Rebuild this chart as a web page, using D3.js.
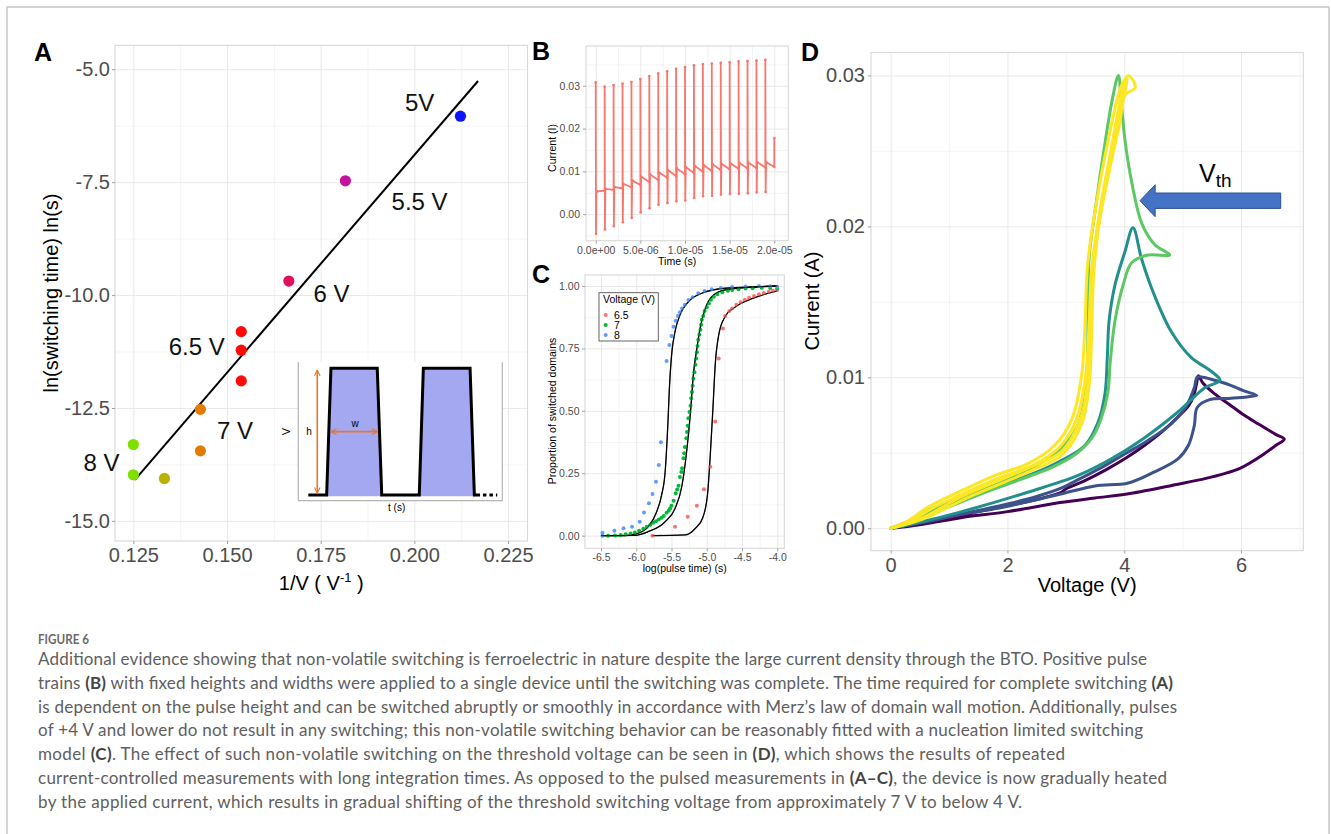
<!DOCTYPE html>
<html><head><meta charset="utf-8">
<script src="https://cdn.jsdelivr.net/npm/d3@7"></script>
<style>
body{margin:0;background:#fff;}
svg{display:block;}
</style></head><body>
<svg id="fig" width="1331" height="834"></svg>
<script>
// ---------------- Panel A data ----------------
const aInvV = [0.2123, 0.1816, 0.1665, 0.1538, 0.1538, 0.1538, 0.1429, 0.1429, 0.1250, 0.1250, 0.1333];
const aLnT  = [-6.04, -7.47, -9.69, -10.81, -11.22, -11.90, -12.53, -13.45, -13.31, -13.98, -14.06];
const aVolt = [5, 5.5, 6, 6.5, 6.5, 6.5, 7, 7, 8, 8, 7.5];
const aVoltLevels = [5, 5.5, 6, 6.5, 7, 7.5, 8];
const aVoltColors = ["#0a14ff", "#c2149c", "#e0105e", "#ff0a0a", "#e37b00", "#bdb000", "#7fe000"];
const aFitX = [0.1254, 0.2170];
const aFitY = [-14.09, -5.26];
const aLabelText = ["5V", "5.5 V", "6 V", "6.5 V", "7 V", "8 V"];
const aLabelX = [0.2014, 0.2014, 0.1779, 0.1419, 0.1521, 0.1165];
const aLabelY = [-5.74, -7.93, -9.97, -11.14, -12.99, -13.71];
const aXTicks = [0.125, 0.150, 0.175, 0.200, 0.225];
const aYTicks = [-15, -12.5, -10, -7.5, -5];
// inset schematic (pulse train)
const insetT = [0.49, 1.39, 1.60, 3.87, 4.09, 5.93, 6.13, 8.42, 8.63, 8.91];
const insetV = [0, 0, 1, 1, 0, 0, 1, 1, 0, 0];

// ---------------- Panel B data ----------------
const bPulseT = [0, 1e-6, 2e-6, 3e-6, 4e-6, 5e-6, 6e-6, 7e-6, 8e-6, 9e-6, 1.0e-5, 1.1e-5, 1.2e-5, 1.3e-5, 1.4e-5, 1.5e-5, 1.6e-5, 1.7e-5, 1.8e-5, 1.9e-5];
const bMax = [0.0308, 0.0298, 0.0302, 0.0305, 0.0309, 0.0316, 0.0323, 0.0329, 0.0334, 0.0340, 0.0344, 0.0348, 0.0351, 0.0352, 0.0354, 0.0355, 0.0357, 0.0358, 0.0359, 0.0361];
const bMin = [-0.0046, -0.0036, -0.0028, -0.0019, -0.0009, 0.0004, 0.0014, 0.0022, 0.0026, 0.0030, 0.0032, 0.0038, 0.0042, 0.0043, 0.0046, 0.0047, 0.0048, 0.0049, 0.0051, 0.0052];
const bBasePeak = [0.0053, 0.0059, 0.0064, 0.0071, 0.0079, 0.0088, 0.0093, 0.0098, 0.0103, 0.0107, 0.0110, 0.0113, 0.0115, 0.0117, 0.0118, 0.0119, 0.0120, 0.0121, 0.0122, 0.0122];
const bBaseEnd = [0.0055, 0.0057, 0.0060, 0.0063, 0.0068, 0.0075, 0.0080, 0.0085, 0.0089, 0.0093, 0.0096, 0.0099, 0.0101, 0.0103, 0.0105, 0.0106, 0.0107, 0.0108, 0.0109, 0.0110];
const bEndT = 2.0e-5, bEndSpike = 0.0178;
const bXTicks = [0, 5e-6, 1e-5, 1.5e-5, 2e-5];
const bXLabels = ["0.0e+00", "5.0e-06", "1.0e-05", "1.5e-05", "2.0e-05"];
const bYTicks = [0, 0.01, 0.02, 0.03];

// ---------------- Panel C data ----------------
const c65X = [-5.77, -5.45, -5.27, -5.14, -5.04, -4.95, -4.88, -4.83, -4.77, -4.74, -4.68, -4.64, -4.58, -4.52, -4.46, -4.40, -4.33, -4.26, -4.19, -4.12, -4.06, -4.00];
const c65Y = [0.000, 0.036, 0.076, 0.120, 0.186, 0.276, 0.457, 0.710, 0.830, 0.880, 0.900, 0.910, 0.925, 0.935, 0.945, 0.953, 0.960, 0.967, 0.972, 0.977, 0.981, 0.984];
const c7X = [-6.40, -6.30, -6.22, -6.15, -6.08, -6.02, -5.96, -5.90, -5.85, -5.80, -5.76, -5.72, -5.68, -5.64, -5.61, -5.57, -5.54, -5.52, -5.50, -5.47, -5.44, -5.42, -5.40, -5.38, -5.36, -5.35, -5.33, -5.32, -5.31, -5.29, -5.28, -5.27, -5.26, -5.245, -5.23, -5.22, -5.21, -5.20, -5.19, -5.175, -5.16, -5.15, -5.14, -5.13, -5.12, -5.105, -5.09, -5.08, -5.07, -5.05, -5.03, -5.00, -4.97, -4.94, -4.90, -4.85, -4.78, -4.70, -4.64, -4.55, -4.45, -4.35, -4.22, -4.10, -4.00];
const c7Y = [0.000, 0.001, 0.003, 0.006, 0.009, 0.013, 0.020, 0.028, 0.036, 0.044, 0.052, 0.058, 0.065, 0.072, 0.079, 0.092, 0.100, 0.109, 0.120, 0.140, 0.170, 0.185, 0.200, 0.235, 0.255, 0.270, 0.310, 0.330, 0.355, 0.390, 0.415, 0.440, 0.470, 0.495, 0.520, 0.550, 0.575, 0.600, 0.630, 0.655, 0.685, 0.710, 0.735, 0.760, 0.785, 0.805, 0.825, 0.845, 0.865, 0.880, 0.900, 0.915, 0.930, 0.945, 0.957, 0.967, 0.975, 0.981, 0.984, 0.987, 0.990, 0.991, 0.993, 0.992, 0.990];
const c8X = [-6.48, -6.48, -6.31, -6.18, -6.06, -5.95, -5.89, -5.82, -5.77, -5.72, -5.68, -5.65, -5.57, -5.53, -5.50, -5.47, -5.44, -5.41, -5.38, -5.35, -5.31, -5.26, -5.20, -5.12, -5.03, -4.93, -4.80, -4.64, -4.45, -4.26, -4.10, -4.00];
const c8Y = [0.000, 0.012, 0.020, 0.030, 0.036, 0.056, 0.093, 0.130, 0.167, 0.216, 0.283, 0.374, 0.700, 0.764, 0.800, 0.837, 0.861, 0.880, 0.895, 0.910, 0.925, 0.944, 0.955, 0.971, 0.980, 0.987, 0.992, 0.996, 0.998, 1.000, 0.999, 0.997];
const fit8X = [-6.50, -6.16, -5.97, -5.83, -5.71, -5.64, -5.59, -5.55, -5.53, -5.50, -5.45, -5.38, -5.26, -5.07, -4.74, -4.26, -4.00];
const fit8Y = [0.000, 0.000, 0.010, 0.036, 0.096, 0.163, 0.256, 0.457, 0.590, 0.720, 0.817, 0.884, 0.937, 0.971, 0.991, 0.997, 1.000];
const fit7X = [-6.50, -6.02, -5.83, -5.59, -5.45, -5.35, -5.28, -5.23, -5.19, -5.14, -5.09, -5.02, -4.93, -4.74, -4.26, -4.00];
const fit7Y = [0.000, 0.001, 0.016, 0.056, 0.109, 0.203, 0.350, 0.497, 0.644, 0.750, 0.837, 0.910, 0.957, 0.984, 0.997, 1.000];
const fit65X = [-5.77, -5.31, -5.16, -5.06, -4.99, -4.95, -4.91, -4.88, -4.83, -4.74, -4.59, -4.35, -4.00];
const fit65Y = [0.000, 0.003, 0.030, 0.070, 0.163, 0.323, 0.523, 0.684, 0.804, 0.877, 0.917, 0.950, 0.980];
const cSeriesNames = ["6.5", "7", "8"];
const cSeriesColors = ["#f8766d", "#00ba38", "#619cff"];
const cXTicks = [-6.5, -6.0, -5.5, -5.0, -4.5, -4.0];
const cYTicks = [0, 0.25, 0.5, 0.75, 1.0];

// ---------------- Panel D data (V, I) ----------------
const dLoopPurple = [[0,0],[0.25,0.0001],[0.6,0.0003],[1.2,0.0007],[2.0,0.0011],[2.9,0.0017],[3.5,0.0020],[4.1,0.0023],[4.9,0.0029],[5.4,0.0033],[5.7,0.0036],[6.0,0.0040],[6.35,0.0048],[6.6,0.0055],[6.74,0.0059],[6.6,0.0062],[6.3,0.0069],[6.05,0.0075],[5.8,0.0082],[5.55,0.0089],[5.35,0.0096],[5.27,0.0101],[5.24,0.0096],[5.19,0.0088],[5.1,0.0081],[4.9,0.0073],[4.65,0.0064],[4.35,0.0055],[4.05,0.0047],[3.7,0.0039],[3.3,0.0031],[3.0,0.0026],[2.93,0.0024],[2.5,0.0019],[2.0,0.0015],[1.5,0.0011],[1.0,0.0007],[0.5,0.0004],[0.2,0.0001],[0,0]];
const dLoopBlue = [[0,0],[0.3,0.0002],[0.7,0.0005],[1.2,0.0009],[1.8,0.0013],[2.4,0.0018],[2.95,0.0023],[3.5,0.0028],[4.07,0.0030],[4.5,0.0037],[4.92,0.0046],[5.1,0.0055],[5.2,0.0068],[5.25,0.0080],[5.45,0.0085],[5.8,0.0086],[6.1,0.0087],[6.27,0.0088],[6.05,0.0091],[5.8,0.0095],[5.55,0.0098],[5.35,0.0100],[5.25,0.0100],[5.2,0.0093],[5.05,0.0080],[4.8,0.0069],[4.4,0.0058],[4.0,0.0049],[3.6,0.0040],[3.2,0.0032],[2.95,0.0027],[2.5,0.0021],[2.0,0.0016],[1.4,0.0011],[0.8,0.0006],[0.3,0.0002],[0,0]];
const dLoopTeal = [[0,0],[0.3,0.0004],[0.64,0.0012],[1.22,0.0019],[1.79,0.0028],[2.36,0.0035],[2.93,0.0045],[3.33,0.0055],[3.55,0.0070],[3.67,0.0089],[3.71,0.0113],[3.74,0.0137],[3.84,0.0161],[4.01,0.0183],[4.15,0.0199],[4.30,0.0178],[4.52,0.0154],[4.81,0.0130],[5.15,0.0113],[5.49,0.0104],[5.64,0.0098],[5.38,0.0093],[4.92,0.0077],[4.35,0.0060],[3.78,0.0046],[3.21,0.0035],[2.36,0.0024],[1.22,0.0011],[0.5,0.0004],[0,0]];
const dLoopGreen = [[0,0],[0.4,0.0006],[1.0,0.0017],[2.0,0.0032],[2.64,0.0045],[3.0,0.0056],[3.2,0.0068],[3.32,0.0085],[3.37,0.0110],[3.38,0.0145],[3.40,0.0180],[3.50,0.0210],[3.65,0.0250],[3.80,0.0285],[3.90,0.0300],[3.95,0.0282],[4.01,0.0258],[4.13,0.0229],[4.30,0.0202],[4.52,0.0188],[4.78,0.0181],[4.41,0.0181],[4.13,0.0176],[3.98,0.0161],[3.84,0.0137],[3.76,0.0110],[3.72,0.0090],[3.60,0.0072],[3.45,0.0060],[3.20,0.0050],[2.80,0.0041],[2.20,0.0032],[1.50,0.0022],[0.80,0.0011],[0.30,0.0003],[0,0]];
const dLoopYellow1 = [[0,0],[0.3,0.0005],[0.64,0.0014],[1.22,0.0025],[1.79,0.0035],[2.36,0.0043],[2.81,0.0055],[3.10,0.0072],[3.27,0.0101],[3.33,0.0137],[3.37,0.0173],[3.50,0.0210],[3.73,0.0258],[3.95,0.0293],[4.07,0.0300],[4.19,0.0292],[4.01,0.0287],[3.93,0.0270],[3.73,0.0234],[3.50,0.0186],[3.41,0.0137],[3.38,0.0101],[3.27,0.0075],[2.93,0.0051],[2.36,0.0040],[1.22,0.0021],[0.5,0.0006],[0,0]];
const dLoopYellow2 = [[0,0],[0.35,0.0005],[0.7,0.0013],[1.3,0.0024],[1.9,0.0034],[2.45,0.0042],[2.9,0.0054],[3.18,0.0072],[3.34,0.0101],[3.40,0.0137],[3.44,0.0170],[3.56,0.0205],[3.78,0.0252],[3.97,0.0290],[4.05,0.0298],[3.98,0.0283],[3.85,0.0262],[3.62,0.0215],[3.48,0.0170],[3.44,0.0125],[3.40,0.0095],[3.28,0.0070],[2.95,0.0049],[2.4,0.0038],[1.3,0.0020],[0.55,0.0006],[0,0]];
const dLoops = [dLoopPurple, dLoopBlue, dLoopTeal, dLoopGreen, dLoopYellow1, dLoopYellow2];
const dLoopColors = ["#440154", "#3b528b", "#21908c", "#5dc863", "#fde725", "#fde725"];
const dXTicks = [0, 2, 4, 6];
const dYTicks = [0, 0.01, 0.02, 0.03];
const vthArrowV = [4.27, 4.53, 6.68];        // tip, head base, tail
const vthArrowI = [0.0217, 0.00051, 0.00106]; // centre, body half-height, head half-height
const vthLabelV = 5.28, vthLabelI = 0.02294;

// ---------------- Caption ----------------
const captionTitle = "FIGURE 6";
const captionLines = [
  [["Additional evidence showing that non-volatile switching is ferroelectric in nature despite the large current density through the BTO. Positive pulse", 0]],
  [["trains ", 0], ["(B)", 1], [" with fixed heights and widths were applied to a single device until the switching was complete. The time required for complete switching ", 0], ["(A)", 1]],
  [["is dependent on the pulse height and can be switched abruptly or smoothly in accordance with Merz\u2019s law of domain wall motion. Additionally, pulses", 0]],
  [["of +4 V and lower do not result in any switching; this non-volatile switching behavior can be reasonably fitted with a nucleation limited switching", 0]],
  [["model ", 0], ["(C)", 1], [". The effect of such non-volatile switching on the threshold voltage can be seen in ", 0], ["(D)", 1], [", which shows the results of repeated", 0]],
  [["current-controlled measurements with long integration times. As opposed to the pulsed measurements in ", 0], ["(A\u2013C)", 1], [", the device is now gradually heated", 0]],
  [["by the applied current, which results in gradual shifting of the threshold switching voltage from approximately 7 V to below 4 V.", 0]]
];
const captionLineEnds = [1147, 1173, 1177, 1143, 1065, 1167, 1022];

// =====================================================
const svg = d3.select("#fig");
const FONT = "'Liberation Sans', Arial, Helvetica, sans-serif";
const hy = f => (d => f(d).replace("\u2212", "-"));
svg.append("rect").attr("x", 7).attr("y", 7).attr("width", 1322).attr("height", 860)
  .attr("fill", "#fff").attr("stroke", "#c4c4c4").attr("stroke-width", 1.4);

function frame(xs, ys, c) {
  const [xl, xr] = xs.range(), [yb, yt] = ys.range();
  const g = svg.append("g");
  g.append("rect").attr("x", xl).attr("y", yt).attr("width", xr - xl).attr("height", yb - yt).attr("fill", "#fff");
  g.append("g").attr("transform", `translate(0,${yb})`)
    .call(d3.axisBottom(xs).tickValues(c.xMinor).tickSize(-(yb - yt)).tickFormat(""))
    .call(a => { a.select(".domain").remove(); a.selectAll("line").attr("stroke", "#f3f3f3").attr("stroke-width", 0.9); });
  g.append("g").attr("transform", `translate(${xl},0)`)
    .call(d3.axisLeft(ys).tickValues(c.yMinor).tickSize(-(xr - xl)).tickFormat(""))
    .call(a => { a.select(".domain").remove(); a.selectAll("line").attr("stroke", "#f3f3f3").attr("stroke-width", 0.9); });
  g.append("g").attr("transform", `translate(0,${yb})`)
    .call(d3.axisBottom(xs).tickValues(c.xTicks).tickSize(-(yb - yt)).tickFormat(""))
    .call(a => { a.select(".domain").remove(); a.selectAll("line").attr("stroke", "#e9e9e9").attr("stroke-width", 1); });
  g.append("g").attr("transform", `translate(${xl},0)`)
    .call(d3.axisLeft(ys).tickValues(c.yTicks).tickSize(-(xr - xl)).tickFormat(""))
    .call(a => { a.select(".domain").remove(); a.selectAll("line").attr("stroke", "#e9e9e9").attr("stroke-width", 1); });
  g.append("rect").attr("x", xl).attr("y", yt).attr("width", xr - xl).attr("height", yb - yt)
    .attr("fill", "none").attr("stroke", "#d8d8d8").attr("stroke-width", 1.1);
  const style = a => {
    a.select(".domain").remove();
    a.selectAll("line").attr("stroke", "#a0a0a0");
    a.selectAll("text").attr("fill", "#4d4d4d").style("font-family", FONT).style("font-size", c.fs + "px");
  };
  g.append("g").attr("transform", `translate(0,${yb})`)
    .call(d3.axisBottom(xs).tickValues(c.xTicks).tickFormat(c.xFmt).tickSize(3).tickPadding(c.xPad)).call(style);
  g.append("g").attr("transform", `translate(${xl},0)`)
    .call(d3.axisLeft(ys).tickValues(c.yTicks).tickFormat(c.yFmt).tickSize(3).tickPadding(c.yPad)).call(style);
  g.append("text").attr("x", (xl + xr) / 2 + (c.xTitleDx || 0)).attr("y", c.xTitleY).attr("text-anchor", "middle")
    .style("font-family", FONT).style("font-size", c.tfs + "px").attr("fill", "#000").call(c.xTitle);
  g.append("text").attr("transform", `translate(${c.yTitleX},${c.yTitleY}) rotate(-90)`).attr("text-anchor", "middle")
    .attr("dy", "0.35em").style("font-family", FONT).style("font-size", c.tfs + "px").attr("fill", "#000").text(c.yTitle);
  svg.append("text").attr("x", c.lx).attr("y", c.ly).text(c.letter)
    .style("font-family", FONT).style("font-weight", "bold").style("font-size", "25px").attr("fill", "#000");
  return g;
}

// ---------------- Panel A ----------------
const ax = d3.scaleLinear().domain([0.1201, 0.2302]).range([115, 527.5]);
const ay = d3.scaleLinear().domain([-15.445, -4.47]).range([541, 45.3]);
const aColor = d3.scaleOrdinal().domain(aVoltLevels).range(aVoltColors);
const gA = frame(ax, ay, {
  xTicks: aXTicks, yTicks: aYTicks, xMinor: [0.1375, 0.1625, 0.1875, 0.2125],
  yMinor: [-13.75, -11.25, -8.75, -6.25], fs: 20, tfs: 20,
  xFmt: d3.format(".3f"), yFmt: hy(d3.format(".1f")), xPad: 4, yPad: 2,
  xTitleY: 590, xTitleDx: 0,
  xTitle: t => { t.append("tspan").text("1/V ( V"); t.append("tspan").attr("dy", -8).style("font-size", "13px").text("-1");
                 t.append("tspan").attr("dy", 8).text(" )"); },
  yTitle: "ln(switching time) ln(s)", yTitleX: 51, yTitleY: 293,
  letter: "A", lx: 34, ly: 61
});
gA.append("line").attr("x1", ax(aFitX[0])).attr("y1", ay(aFitY[0])).attr("x2", ax(aFitX[1])).attr("y2", ay(aFitY[1]))
  .attr("stroke", "#000").attr("stroke-width", 2);
gA.selectAll("circle.pt").data(aInvV).join("circle").attr("class", "pt")
  .attr("cx", d => ax(d)).attr("cy", (d, i) => ay(aLnT[i])).attr("r", 5.6).attr("fill", (d, i) => aColor(aVolt[i]));
gA.selectAll("text.lab").data(aLabelText).join("text").attr("class", "lab")
  .attr("x", (d, i) => ax(aLabelX[i])).attr("y", (d, i) => ay(aLabelY[i])).attr("dy", "0.36em")
  .attr("text-anchor", "middle").style("font-family", FONT).style("font-size", "24px").attr("fill", "#111").text(d => d);

// inset
const ix = d3.scaleLinear().domain([0, 10]).range([298.3, 502.3]);
const iy = d3.scaleLinear().domain([0, 1]).range([495, 368.3]);
const gI = svg.append("g");
gI.append("rect").attr("x", ix(0)).attr("y", iy(1.05)).attr("width", ix(10) - ix(0)).attr("height", iy(-0.045) - iy(1.05)).attr("fill", "#fff");
gI.append("path").attr("d", `M${ix(0)},${iy(1.05)}V${iy(-0.045)}H${ix(10)}V${iy(1.05)}`).attr("fill", "none").attr("stroke", "#b5b5b5").attr("stroke-width", 1.2);
const area = d3.area().x((d) => ix(d[0])).y0(iy(-0.01)).y1(d => iy(d[1]));
[[1, 4], [5, 8]].forEach(([s, e]) => {
  const pts = d3.range(s, e + 1).map(i => [insetT[i], insetV[i]]);
  gI.append("path").attr("d", area(pts)).attr("fill", "#a4a8f1");
});
gI.append("path").attr("d", d3.line().x(d => ix(d[0])).y(d => iy(d[1]))(insetT.map((t, i) => [t, insetV[i]])))
  .attr("fill", "none").attr("stroke", "#000").attr("stroke-width", 3).attr("stroke-linejoin", "miter");
gI.append("line").attr("x1", ix(9.05)).attr("x2", ix(9.75)).attr("y1", iy(0)).attr("y2", iy(0))
  .attr("stroke", "#000").attr("stroke-width", 3).attr("stroke-dasharray", "3.5,3");
const defs = svg.append("defs");
defs.append("marker").attr("id", "oar").attr("viewBox", "0 0 10 10").attr("refX", 9).attr("refY", 5)
  .attr("markerWidth", 7).attr("markerHeight", 7).attr("orient", "auto-start-reverse").attr("markerUnits", "userSpaceOnUse")
  .append("path").attr("d", "M1,1L9,5L1,9").attr("fill", "none").attr("stroke", "#e8762c").attr("stroke-width", 1.6);
gI.append("line").attr("x1", ix(0.93)).attr("x2", ix(0.93)).attr("y1", iy(0.985)).attr("y2", iy(0.015))
  .attr("stroke", "#e8762c").attr("stroke-width", 1.6).attr("marker-start", "url(#oar)").attr("marker-end", "url(#oar)");
gI.append("line").attr("x1", ix(1.6)).attr("x2", ix(3.88)).attr("y1", iy(0.5)).attr("y2", iy(0.5))
  .attr("stroke", "#e8762c").attr("stroke-width", 1.6).attr("marker-start", "url(#oar)").attr("marker-end", "url(#oar)");
gI.append("text").attr("x", ix(0.52)).attr("y", iy(0.5)).attr("dy", "0.35em").attr("text-anchor", "middle")
  .style("font-family", FONT).style("font-size", "10px").text("h");
gI.append("text").attr("x", ix(2.78)).attr("y", iy(0.56)).attr("dy", "0.3em").attr("text-anchor", "middle")
  .style("font-family", FONT).style("font-size", "10px").text("w");
gI.append("text").attr("x", ix(4.82)).attr("y", iy(-0.045) + 10).attr("text-anchor", "middle")
  .style("font-family", FONT).style("font-size", "10px").text("t (s)");
gI.append("text").attr("transform", `translate(${ix(-0.4)},${iy(0.5)}) rotate(-90)`).attr("text-anchor", "middle")
  .style("font-family", FONT).style("font-size", "11px").text("V");

// ---------------- Panel B ----------------
const bx = d3.scaleLinear().domain([-1.09e-6, 2.157e-5]).range([586, 788.3]);
const by = d3.scaleLinear().domain([-0.0062, 0.0393]).range([240.7, 46]);
const gB = frame(bx, by, {
  xTicks: bXTicks, yTicks: bYTicks, xMinor: [2.5e-6, 7.5e-6, 1.25e-5, 1.75e-5],
  yMinor: [-0.005, 0.005, 0.015, 0.025, 0.035], fs: 10.5, tfs: 10.5,
  xFmt: (d, i) => bXLabels[i], yFmt: d3.format(".2f"), xPad: 2.5, yPad: 3,
  xTitleY: 265, xTitleDx: -10, xTitle: t => t.text("Time (s)"),
  yTitle: "Current (I)", yTitleX: 552, yTitleY: 148,
  letter: "B", lx: 532, ly: 60
});
const bPts = [];
bPulseT.forEach((t, k) => {
  if (k > 0) bPts.push([t, bBaseEnd[k - 1]]);
  bPts.push([t, bMax[k]]);
  bPts.push([t + 3e-8, bMin[k]]);
  bPts.push([t + 8e-8, bBasePeak[k]]);
});
bPts.push([bEndT, bBaseEnd[bBaseEnd.length - 1]]);
bPts.push([bEndT, bEndSpike]);
gB.append("path").attr("d", d3.line().x(d => bx(d[0])).y(d => by(d[1]))(bPts))
  .attr("fill", "none").attr("stroke", "#f8766d").attr("stroke-width", 1.8).attr("stroke-linejoin", "round");
gB.selectAll("circle").data(bPts).join("circle").attr("cx", d => bx(d[0])).attr("cy", d => by(d[1])).attr("r", 1.3).attr("fill", "#f8766d");

// ---------------- Panel C ----------------
const cx = d3.scaleLinear().domain([-6.727, -3.90]).range([585, 784.3]);
const cy = d3.scaleLinear().domain([-0.0505, 1.044]).range([548.3, 275]);
const gC = frame(cx, cy, {
  xTicks: cXTicks, yTicks: cYTicks, xMinor: [-6.25, -5.75, -5.25, -4.75, -4.25],
  yMinor: [0.125, 0.375, 0.625, 0.875], fs: 10.5, tfs: 10.5,
  xFmt: hy(d3.format(".1f")), yFmt: d3.format(".2f"), xPad: 2, yPad: 2.5,
  xTitleY: 572, xTitleDx: 0, xTitle: t => t.text("log(pulse time)  (s)"),
  yTitle: "Proportion of switched domains", yTitleX: 552, yTitleY: 411,
  letter: "C", lx: 532, ly: 283
});
const cLine = d3.line().x(d => cx(d[0])).y(d => cy(d[1])).curve(d3.curveMonotoneX);
[[fit65X, fit65Y], [fit7X, fit7Y], [fit8X, fit8Y]].forEach(([X, Y]) => {
  gC.append("path").attr("d", cLine(X.map((x, i) => [x, Y[i]]))).attr("fill", "none").attr("stroke", "#000").attr("stroke-width", 1.3);
});
[[c65X, c65Y], [c7X, c7Y], [c8X, c8Y]].forEach(([X, Y], s) => {
  gC.append("g").selectAll("circle").data(X).join("circle")
    .attr("cx", d => cx(d)).attr("cy", (d, i) => cy(Y[i])).attr("r", 2).attr("fill", cSeriesColors[s]);
});
[[fit65X, fit65Y], [fit7X, fit7Y], [fit8X, fit8Y]].forEach(([X, Y]) => {
  gC.append("path").attr("d", cLine(X.map((x, i) => [x, Y[i]]))).attr("fill", "none").attr("stroke", "#000").attr("stroke-width", 0.8).attr("opacity", 0.7);
});
const lg = gC.append("g").attr("transform", `translate(${cx.range()[0] + 14},${cy.range()[1] + 17.7})`);
lg.append("rect").attr("width", 59.3).attr("height", 48.3).attr("fill", "#fff").attr("stroke", "#555").attr("stroke-width", 0.9);
lg.append("text").attr("x", 4).attr("y", 10.5).text("Voltage (V)").style("font-family", FONT).style("font-size", "10.5px");
cSeriesNames.forEach((n, i) => {
  lg.append("circle").attr("cx", 6.7).attr("cy", 22.3 + i * 10).attr("r", 2).attr("fill", cSeriesColors[i]);
  lg.append("text").attr("x", 15).attr("y", 22.3 + i * 10).attr("dy", "0.35em").text(n).style("font-family", FONT).style("font-size", "10.5px");
});

// ---------------- Panel D ----------------
const dx = d3.scaleLinear().domain([-0.337, 7.067]).range([871, 1303.3]);
const dy = d3.scaleLinear().domain([-0.00149, 0.03152]).range([550.7, 52.5]);
const gD = frame(dx, dy, {
  xTicks: dXTicks, yTicks: dYTicks, xMinor: [1, 3, 5, 7], yMinor: [0.005, 0.015, 0.025], fs: 20, tfs: 20,
  xFmt: d3.format("d"), yFmt: d3.format(".2f"), xPad: 4, yPad: 3,
  xTitleY: 592, xTitleDx: 0, xTitle: t => t.text("Voltage (V)"),
  yTitle: "Current (A)", yTitleX: 812, yTitleY: 301,
  letter: "D", lx: 801, ly: 61
});
const dLine = d3.line().x(d => dx(d[0])).y(d => dy(d[1])).curve(d3.curveCatmullRom.alpha(0.5));
dLoops.forEach((L, i) => {
  gD.append("path").attr("d", dLine(L)).attr("fill", "none").attr("stroke", dLoopColors[i])
    .attr("stroke-width", 3).attr("stroke-linejoin", "round").attr("stroke-linecap", "round");
});
const [tipV, headV, tailV] = vthArrowV, [cI, bH, hH] = vthArrowI;
const arrowPts = [[tipV, cI], [headV, cI + hH], [headV, cI + bH], [tailV, cI + bH], [tailV, cI - bH], [headV, cI - bH], [headV, cI - hH]];
gD.append("path").attr("d", d3.line().x(d => dx(d[0])).y(d => dy(d[1]))(arrowPts) + "Z")
  .attr("fill", "#4472c4").attr("stroke", "#2f528f").attr("stroke-width", 1);
const vt = gD.append("text").attr("x", dx(vthLabelV)).attr("y", dy(vthLabelI)).style("font-family", FONT).attr("fill", "#000");
vt.append("tspan").style("font-size", "25px").text("V");
vt.append("tspan").attr("dy", 5).style("font-size", "19px").text("th");

// ---------------- Caption ----------------
const CAPF = "Lato, 'Open Sans', 'Noto Sans', sans-serif";
svg.append("text").attr("x", 38).attr("y", 644).text(captionTitle)
  .style("font-family", CAPF).style("font-weight", "700").style("font-size", "14px").attr("fill", "#6a6a6a")
  .attr("textLength", 51).attr("lengthAdjust", "spacingAndGlyphs");
captionLines.forEach((segs, i) => {
  const t = svg.append("text").attr("x", 38).attr("y", 665 + i * 23.8)
    .style("font-family", CAPF).style("font-size", "17px").attr("fill", "#5e5e5e")
    .attr("textLength", captionLineEnds[i] - 38).attr("lengthAdjust", "spacing");
  segs.forEach(([s, b]) => t.append("tspan").text(s).style("font-weight", b ? "700" : "400").attr("fill", b ? "#444" : "#5e5e5e"));
});
</script></body></html>
